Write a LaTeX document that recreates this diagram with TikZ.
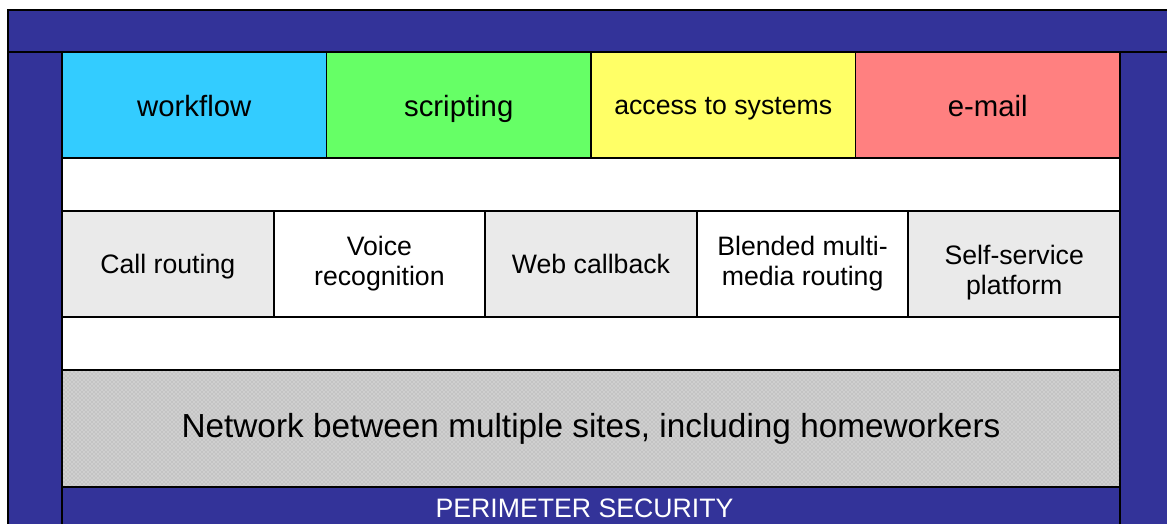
\documentclass[tikz,border=0pt]{standalone}
\usepackage{fontspec}
\setmainfont{Liberation Sans}
\usetikzlibrary{patterns}
\usepackage{xcolor}

\definecolor{frameblue}{HTML}{333399}
\definecolor{wfcyan}{HTML}{33CCFF}
\definecolor{scgreen}{HTML}{66FF66}
\definecolor{acyellow}{HTML}{FFFF66}
\definecolor{emred}{HTML}{FF8080}
\definecolor{cellgray}{HTML}{EAEAEA}
\definecolor{netgray}{HTML}{C4C4C4}

\def\pxu{0.75pt}

\tikzset{
  edge/.style={draw=black, line width=1.4pt},
  band/.style={edge, inner sep=0pt, outer sep=0pt, align=center, minimum width=1058*\pxu},
  topcell/.style={edge, inner sep=0pt, outer sep=0pt, minimum width=264.5*\pxu, minimum height=106*\pxu, text height=18pt, text depth=0pt, font=\fontsize{22}{26}\selectfont},
  midcell/.style={edge, inner sep=0pt, outer sep=0pt, align=center, minimum width=211.6*\pxu, minimum height=106*\pxu, font=\fontsize{20}{22.5}\selectfont},
  oneline/.style={text height=13.5pt, text depth=0pt},
}

\begin{document}
\begin{tikzpicture}[x=0.75pt, y=-0.75pt]
            \useasboundingbox (0,0) rectangle (1167,524);
            \clip (0,0) rectangle (1167,524);

            % perimeter frame
            \draw[edge, fill=frameblue] (8,10) rectangle (1185,52);
            \node[band, fill=frameblue, text=white, minimum width=1080*\pxu, minimum height=42*\pxu, font=\fontsize{20}{24}\selectfont] (perim) at (584.5,508) {PERIMETER SECURITY};
            \draw[edge, fill=frameblue] (8,52) rectangle (62,545);
            \draw[edge, fill=frameblue] (1120,52) rectangle (1185,545);

            % application layer
            \node[topcell, fill=wfcyan] (workflow) at (194.25,105) {workflow};
            \node[topcell, fill=scgreen] (scripting) at (458.75,105) {scripting};
            \node[topcell, fill=acyellow, font=\fontsize{20}{24}\selectfont, text height=15pt] (access) at (723.25,105) {access to systems};
            \node[topcell, fill=emred] (email) at (987.75,105) {e-mail};

            \node[band, fill=white, minimum height=53*\pxu] (gapa) at (591,184.5) {};

            % contact centre functions
            \node[midcell, oneline, fill=cellgray] (routing) at (167.8,264) {Call routing};
            \node[midcell, fill=white] (voice) at (379.4,264) {Voice\\recognition};
            \node[midcell, oneline, fill=cellgray] (callback) at (591,264) {Web callback};
            \node[midcell, fill=white] (blended) at (802.6,264) {Blended multi-\\media routing};
            \node[midcell, fill=cellgray, text height=45pt, text depth=0pt] (selfserv) at (1014.2,264) {Self-service\\platform};

            \node[band, fill=white, minimum height=53*\pxu] (gapb) at (591,343.5) {};

            % network layer
            \node[band, preaction={fill=netgray}, pattern=crosshatch dots, pattern color=white!85!netgray, minimum height=117*\pxu, font=\fontsize{25}{30}\selectfont] (network) at (591,428.5) {Network between multiple sites, including homeworkers};
        \end{tikzpicture}
\end{document}
